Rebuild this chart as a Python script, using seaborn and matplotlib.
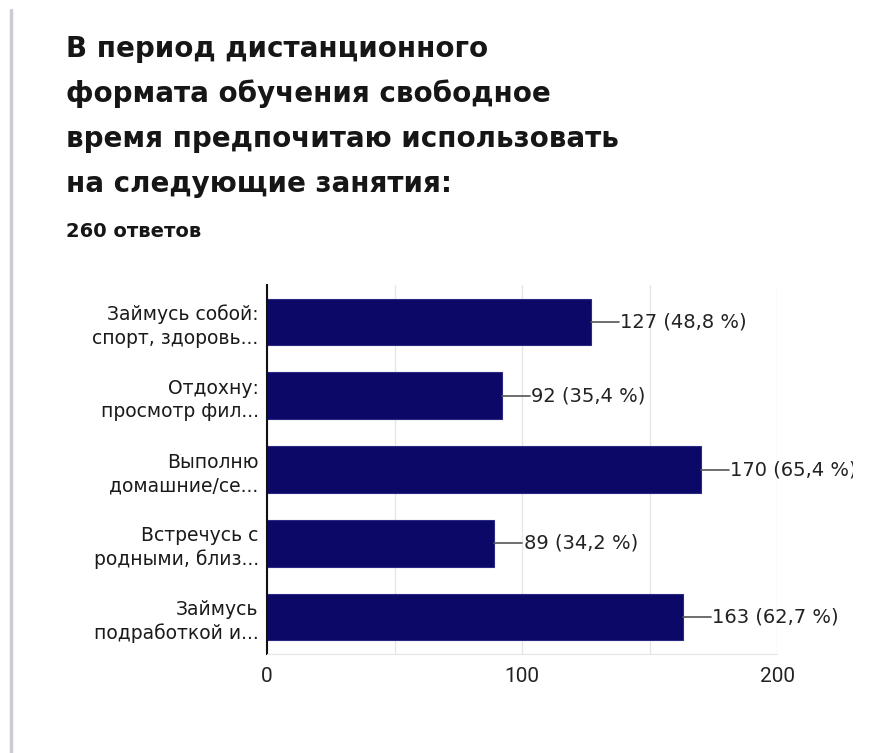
import seaborn as sns
import pandas as pd
import matplotlib.pyplot as plt
from matplotlib.lines import Line2D
from matplotlib.transforms import Bbox, TransformedBbox

### Data
title_lines = ["В период дистанционного",
               "формата обучения свободное",
               "время предпочитаю использовать",
               "на следующие занятия:"]
subtitle = "260 ответов"
categories = ["Займусь собой:\nспорт, здоровь...",
              "Отдохну:\nпросмотр фил...",
              "Выполню\nдомашние/се...",
              "Встречусь с\nродными, близ...",
              "Займусь\nподработкой и..."]
counts = [127, 92, 170, 89, 163]
percents = ["48,8", "35,4", "65,4", "34,2", "62,7"]
ticks = [0, 100, 200]

df = pd.DataFrame({"cat": categories, "n": counts})

sns.set_style("white")
plt.rcParams['font.family'] = ['DejaVu Sans']

W, H = 872, 753
fig = plt.figure(figsize=(W / 100, H / 100), dpi=100)
ax = fig.add_axes([267 / W, 1 - 654 / H, 510 / W, 369 / H])

bar_color = "#0c0868"
sns.barplot(data=df, x="n", y="cat", orient="h", color=bar_color, saturation=1,
            edgecolor="#2a2a85", linewidth=0.8, width=0.63, ax=ax)

ax.set_xlim(0, 200)
ax.set_ylim(4.5, -0.5)
ax.set_xticks(ticks)
ax.set_xticks([50, 150], minor=True)
ax.set_xticklabels([str(t) for t in ticks], family="Roboto", fontsize=15, color="#222222")
ax.tick_params(axis="x", which="both", length=0, pad=9)
ax.tick_params(axis="y", length=0, pad=6)
ax.set_yticklabels(categories, fontsize=13.5, color="#1a1a1a", ha="right", linespacing=1.3)
ax.xaxis.grid(True, which="both", color="#e6e6e6", linewidth=1)
ax.set_axisbelow(True)
ax.set_xlabel("")
ax.set_ylabel("")
for s in ["top", "right"]:
    ax.spines[s].set_visible(False)
ax.spines["bottom"].set_color("#e6e6e6")
ax.spines["left"].set_color("#111111")
ax.spines["left"].set_linewidth(1.5)

clip = TransformedBbox(Bbox([[0, 0], [853 / W, 1]]), fig.transFigure)
for i, (n, p) in enumerate(zip(counts, percents)):
    ax.plot([n, n + 11], [i, i], color="#555555", lw=1.2)
    t = ax.text(n + 11.6, i, f"{n} ({p} %)", fontsize=14,
                color="#222222", va="center", ha="left")
    t.set_clip_box(clip)
    t.set_clip_on(True)

### Titles
for k, line in enumerate(title_lines):
    fig.text(66 / W, 1 - (57 + 45 * k) / H, line, fontsize=20, fontweight="bold",
             color="#161616", va="baseline", ha="left")
fig.text(66 / W, 1 - 237 / H, subtitle, fontsize=14, fontweight="bold",
         color="#161616", va="baseline", ha="left")

fig.add_artist(Line2D([11 / W, 11 / W], [0, 1 - 10 / H], color="#cbcbd3", lw=2.5))

fig.savefig("out.png", dpi=100, facecolor="white")
